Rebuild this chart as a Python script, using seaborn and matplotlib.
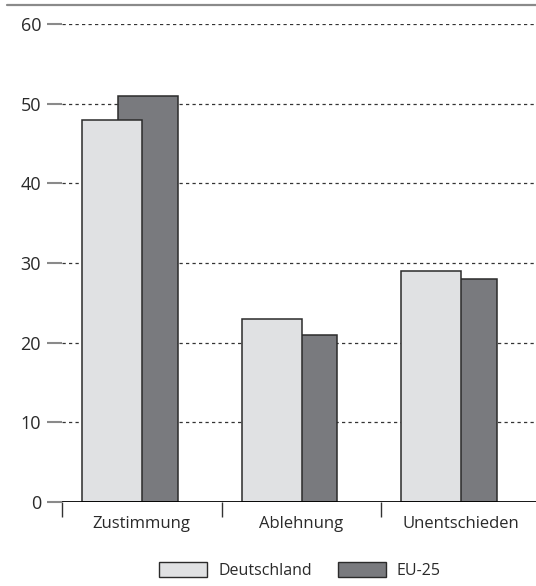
import numpy as np
import pandas as pd
import matplotlib
matplotlib.use('Agg')
import matplotlib.pyplot as plt
from matplotlib.lines import Line2D
from matplotlib.patches import Patch
import seaborn as sns

# data
categories = ['Zustimmung', 'Ablehnung', 'Unentschieden']
deutschland = [48, 23, 29]
eu25 = [51, 21, 28]
series_names = ['Deutschland', 'EU-25']
yticks = [0, 10, 20, 30, 40, 50, 60]

light = '#e0e1e3'
dark = '#797a7e'
edge = '#2b2b2b'

sns.set_style('white')
plt.rcParams['font.family'] = ['Open Sans', 'DejaVu Sans']

fig = plt.figure(figsize=(5.36, 5.86), dpi=100)
ax = fig.add_axes([62 / 536, 1 - 502 / 586, 479 / 536, 478 / 586])

df_eu = pd.DataFrame({'cat': categories, 'val': eu25})
df_de = pd.DataFrame({'cat': categories, 'val': deutschland})

# EU-25 behind, Deutschland in front, overlapping
sns.barplot(data=df_eu, x='cat', y='val', color=dark, width=0.375,
            edgecolor=edge, linewidth=1.1, saturation=1, ax=ax, zorder=3)
for bar in ax.containers[0]:
    bar.set_x(bar.get_x() + 0.0375)
sns.barplot(data=df_de, x='cat', y='val', color=light, width=0.375,
            edgecolor=edge, linewidth=1.1, saturation=1, ax=ax, zorder=4)
for bar in ax.containers[1]:
    bar.set_x(bar.get_x() - 0.1875)

ax.set_xlim(-0.5, 2.5)
ax.set_ylim(0, 60)
ax.set_xlabel('')
ax.set_ylabel('')
for s in ax.spines.values():
    s.set_visible(False)

# grid lines
for y in yticks[1:]:
    ax.axhline(y, color='#333333', lw=0.9, ls=(0, (2.6, 2.6)), zorder=1)
ax.axhline(0, color='black', lw=2, zorder=5)

ax.set_yticks(yticks)
ax.tick_params(axis='y', length=10.8, width=1.5, color='#8a8a8a', pad=4.3,
               labelsize=13, labelcolor='#2a2a2a', left=True)
ax.set_xticks(range(len(categories)))
ax.set_xticklabels(categories)
ax.set_xticks([-0.5, 0.5, 1.5, 2.5], minor=True)
ax.tick_params(axis='x', which='major', length=0, pad=10, labelsize=12,
               labelcolor='#2a2a2a')
ax.tick_params(axis='x', which='minor', length=10.8, width=1, color='#333333',
               bottom=True)

# top rule
fig.add_artist(Line2D([7 / 536, 1], [1 - 5 / 586] * 2, color='#8a8a8a', lw=1.6))

handles = [Patch(facecolor=light, edgecolor=edge, lw=1),
           Patch(facecolor=dark, edgecolor=edge, lw=1)]
leg = fig.legend(handles, series_names, loc='center', bbox_to_anchor=(0.56, 0.026),
                 ncol=2, frameon=False, fontsize=11.5, handlelength=3.0,
                 handleheight=1.0, handletextpad=0.7, columnspacing=1.6)
for t in leg.get_texts():
    t.set_color('#2a2a2a')

fig.savefig('out.png', dpi=100)
